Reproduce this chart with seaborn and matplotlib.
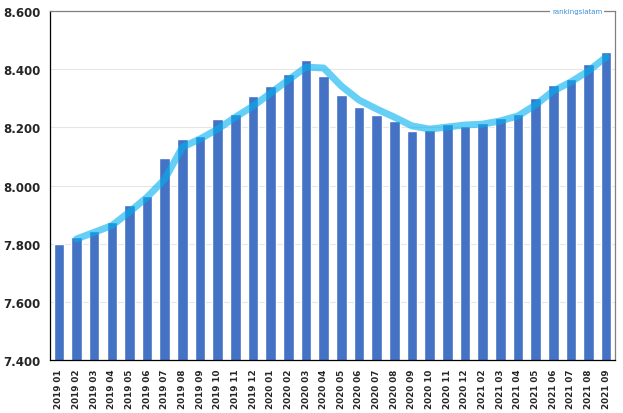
import numpy as np
import pandas as pd
import matplotlib
matplotlib.use("Agg")
import matplotlib.pyplot as plt
import seaborn as sns
from matplotlib.ticker import FuncFormatter, FixedLocator

months = ["2019 01", "2019 02", "2019 03", "2019 04", "2019 05", "2019 06",
          "2019 07", "2019 08", "2019 09", "2019 10", "2019 11", "2019 12",
          "2020 01", "2020 02", "2020 03", "2020 04", "2020 05", "2020 06",
          "2020 07", "2020 08", "2020 09", "2020 10", "2020 11", "2020 12",
          "2021 02", "2021 03", "2021 04", "2021 05", "2021 06", "2021 07",
          "2021 08", "2021 09"]

values = [7800, 7822, 7842, 7874, 7933, 7964,
          8094, 8160, 8171, 8229, 8246, 8308,
          8342, 8383, 8431, 8376, 8311, 8270,
          8242, 8222, 8187, 8191, 8211, 8205,
          8215, 8232, 8246, 8301, 8346, 8366,
          8418, 8459]

# trend line starts at the second month
trend = [7816, 7839, 7862, 7909, 7960,
         8022, 8132, 8160, 8194, 8235, 8273,
         8318, 8363, 8407, 8404, 8342, 8294,
         8263, 8235, 8205, 8194, 8201, 8208,
         8211, 8222, 8239, 8277, 8325, 8356,
         8394, 8442]

yticks = [7400, 7600, 7800, 8000, 8200, 8400, 8600]

sns.set_style("white")
plt.rcParams['font.family'] = ['DejaVu Sans']

fig = plt.figure(figsize=(6.23, 4.14), dpi=100)
ax = fig.add_axes([50/623, 53/414, 565/623, 349/414])

df = pd.DataFrame({"month": months, "value": values})
sns.barplot(data=df, x="month", y="value", color="#4472C4", width=0.6,
            saturation=1, ax=ax, zorder=2)

tdf = pd.DataFrame({"pos": np.arange(1, len(months)), "trend": trend})
sns.lineplot(data=tdf, x="pos", y="trend", color="#00B0F0", alpha=0.6,
             linewidth=5, solid_capstyle="round", ax=ax, zorder=3)

ax.set_xlim(-0.5, len(months) - 0.5)
ax.set_ylim(7400, 8600)
ax.yaxis.set_major_locator(FixedLocator(yticks))
ax.yaxis.set_major_formatter(FuncFormatter(lambda v, p: f"{v:,.0f}".replace(",", ".")))
ax.set_xlabel("")
ax.set_ylabel("")

ax.grid(axis="y", color="#E6E6E6", linewidth=0.8, zorder=0)
ax.set_axisbelow(True)

ax.set_xticks(range(len(months)))
ax.set_xticklabels(months, rotation=90, fontsize=6.3, fontweight="bold")
ax.set_xticks(np.arange(-0.5, len(months)), minor=True)
ax.tick_params(axis="x", which="major", length=0, pad=6)
ax.tick_params(axis="x", which="minor", length=4, width=0.8, color="black", direction="out")
ax.tick_params(axis="y", length=4, width=0.8, color="black", direction="out",
               labelsize=8.5, pad=3)
for lab in ax.get_yticklabels():
    lab.set_fontweight("bold")

for s in ["left", "bottom"]:
    ax.spines[s].set_color("black")
    ax.spines[s].set_linewidth(0.9)
for s in ["top", "right"]:
    ax.spines[s].set_visible(True)
    ax.spines[s].set_color("#808080")
    ax.spines[s].set_linewidth(0.9)

ax.text(0.933, 1.0, "rankingslatam", transform=ax.transAxes, ha="center", va="center",
        fontsize=5, color="#3D8FD8",
        bbox=dict(facecolor="white", edgecolor="none", pad=1.5), zorder=10, clip_on=False)

fig.savefig("out.png", dpi=100)
